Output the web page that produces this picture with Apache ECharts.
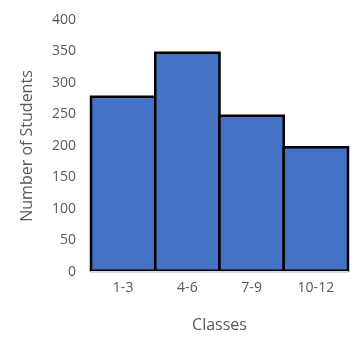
<!DOCTYPE html>
<html>
<head>
<meta charset="utf-8">
<script src="https://cdn.jsdelivr.net/npm/echarts@6/dist/echarts.min.js"></script>
<style>
    html, body { margin: 0; padding: 0; background: #fff; }
    #chart { width: 364px; height: 352px; }
</style>
</head>
<body>
<div id="chart"></div>
<script>
var classes = ['1-3', '4-6', '7-9', '10-12'];
var students = [280, 350, 250, 200];
var yTicks = [0, 400, 50];

(function () {
    var chart = echarts.init(document.getElementById('chart'));
    var font = 'Open Sans';

    var option = {
        backgroundColor: '#fff',
        animation: false,
        grid: {
            left: 91,
            right: 16,
            top: 20,
            bottom: 80
        },
        xAxis: {
            type: 'category',
            data: classes,
            z: 5,
            name: 'Classes',
            nameLocation: 'middle',
            nameGap: 45,
            nameTextStyle: { fontFamily: font, fontSize: 16, color: '#595959' },
            axisLine: { lineStyle: { color: '#d9d9d9', width: 2 } },
            axisTick: { show: false },
            axisLabel: { fontFamily: font, fontSize: 14, color: '#595959', margin: 9 }
        },
        yAxis: {
            type: 'value',
            min: yTicks[0],
            max: yTicks[1],
            interval: yTicks[2],
            name: 'Number of Students',
            nameLocation: 'middle',
            nameGap: 56,
            nameTextStyle: { fontFamily: font, fontSize: 16, color: '#595959' },
            axisLine: { show: false },
            axisTick: { show: false },
            splitLine: { show: false },
            axisLabel: { fontFamily: font, fontSize: 14, color: '#595959', margin: 15 }
        },
        series: [
            {
                type: 'bar',
                data: students,
                // widen a little so neighbouring borders overlap into one line
                barWidth: '103.9%',
                itemStyle: {
                    color: '#4472c4',
                    borderColor: '#000',
                    borderWidth: 2.5
                }
            }
        ]
    };

    chart.setOption(option);
})();
</script>
</body>
</html>
